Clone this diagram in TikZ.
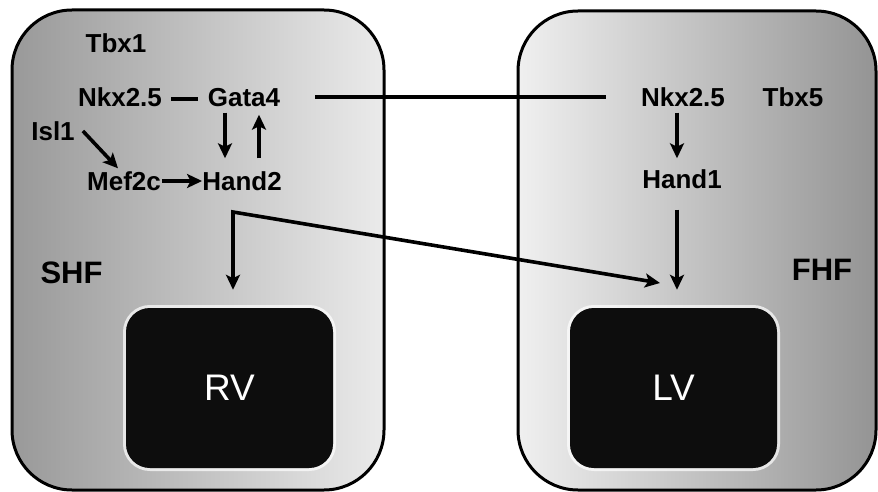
\documentclass[tikz,border=0pt]{standalone}
\usepackage{fontspec}
\setmainfont{Liberation Sans}
\usetikzlibrary{arrows.meta}
\begin{document}
\begin{tikzpicture}[x=1pt,y=-1pt,
  gene/.style={font=\fontsize{26}{26}\selectfont\bfseries, inner sep=0pt, text height=19pt, text depth=0pt},
  field/.style={font=\fontsize{31}{31}\selectfont\bfseries, inner sep=0pt},
  chamber/.style={fill=black!95, rounded corners=24pt, minimum width=207pt, minimum height=160pt, text=white, font=\fontsize{37}{37}\selectfont, inner sep=0pt},
  glow/.style={draw=white, draw opacity=0.7, line width=6pt},
  region/.style={draw=black, line width=3pt, rounded corners=60pt, inner sep=0pt},
  tip/.tip={Stealth[length=15pt,width=14pt,inset=3.5pt]},
  arr/.style={line width=3.6pt, -tip},
  link/.style={line width=3.2pt}]
\useasboundingbox (0,0) rectangle (878,492);
% fields
\node[region, left color=black!40, right color=black!8, minimum width=372pt, minimum height=480pt] (shfbox) at (198,250) {};
\node[region, left color=black!6, right color=black!42, minimum width=358pt, minimum height=479pt] (fhfbox) at (697,250.5) {};
% chambers
\node[chamber, glow] (rvglow) at (229.5,388) {};
\node[chamber, glow] (lvglow) at (673.5,388) {};
\node[chamber] (rv) at (229.5,388) {RV};
\node[chamber] (lv) at (673.5,388) {LV};
% labels
\node[field] (shf) at (71.5,273) {SHF};
\node[field] (fhf) at (822,270) {FHF};
% genes
\node[gene] (tbx1) at (116,43) {Tbx1};
\node[gene] (nkxL) at (120,97) {Nkx2.5};
\node[gene] (gata4) at (244,97) {Gata4};
\node[gene] (isl1) at (53,131) {Isl1};
\node[gene] (mef2c) at (124,181) {Mef2c};
\node[gene] (hand2) at (242,181) {Hand2};
\node[gene] (nkxR) at (683,97) {Nkx2.5};
\node[gene] (tbx5) at (793,97) {Tbx5};
\node[gene] (hand1) at (682,179) {Hand1};
% connectors
\draw[link, shorten <=9pt, shorten >=10pt] ([yshift=-2pt]nkxL.east) -- ([yshift=-2pt]gata4.west);
\draw[link, shorten <=35pt, shorten >=35pt] (gata4.east) -- (nkxR.west);
\draw[arr] ([xshift=8pt]isl1.east) -- ([xshift=-6pt,yshift=3pt]mef2c.north);
\draw[arr, shorten <=1pt] (mef2c.east) -- (hand2.west);
\draw[arr, shorten <=6pt, shorten >=13pt] ([xshift=-19pt]gata4.south) -- ([xshift=-17pt]hand2.north);
\draw[arr, shorten <=13pt, shorten >=8pt] ([xshift=17pt]hand2.north) -- ([xshift=15pt]gata4.south);
\draw[arr, shorten <=6pt, shorten >=11pt] ([xshift=-6pt]nkxR.south) -- ([xshift=-5pt]hand1.north);
\draw[arr, shorten <=21pt, shorten >=18pt] ([xshift=-5pt]hand1.south) -- ([xshift=3.5pt]lv.north);
\coordinate (h2c) at (233,212);
\coordinate (lvin) at (660,283);
\draw[line width=3.6pt, tip-tip, shorten <=18pt] ([xshift=3.5pt]rv.north) -- (h2c) -- (lvin);
\end{tikzpicture}
\end{document}
